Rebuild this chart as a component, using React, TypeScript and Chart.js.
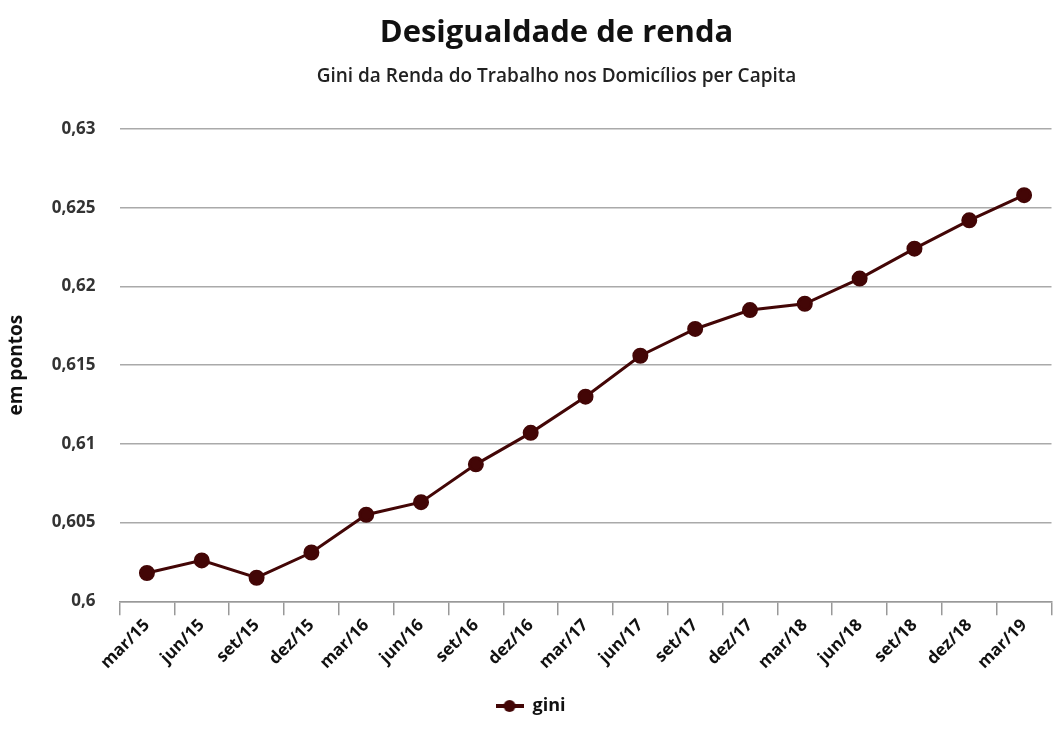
import React, { useEffect, useRef } from "react";
import { Chart, registerables } from "chart.js";

Chart.register(...registerables);

const chartTitle = "Desigualdade de renda";
const chartSubtitle = "Gini da Renda do Trabalho nos Domicílios per Capita";
const yAxisTitle = "em pontos";
const seriesName = "gini";

const categories = [
  "mar/15", "jun/15", "set/15", "dez/15",
  "mar/16", "jun/16", "set/16", "dez/16",
  "mar/17", "jun/17", "set/17", "dez/17",
  "mar/18", "jun/18", "set/18", "dez/18",
  "mar/19",
];

const gini = [
  0.6018, 0.6026, 0.6015, 0.6031,
  0.6055, 0.6063, 0.6087, 0.6107,
  0.613, 0.6156, 0.6173, 0.6185,
  0.6189, 0.6205, 0.6224, 0.6242,
  0.6258,
];

const yMin = 0.6;
const yMax = 0.63;
const yStep = 0.005;

const COLOR = "#430606";
const FONT = "'Open Sans', 'Noto Sans', sans-serif";

function legendIcon(): HTMLCanvasElement {
  const c = document.createElement("canvas");
  c.width = 28;
  c.height = 14;
  const ctx = c.getContext("2d")!;
  ctx.strokeStyle = COLOR;
  ctx.lineWidth = 4;
  ctx.beginPath();
  ctx.moveTo(0, 7);
  ctx.lineTo(28, 7);
  ctx.stroke();
  ctx.fillStyle = COLOR;
  ctx.beginPath();
  ctx.arc(14, 7, 6, 0, Math.PI * 2);
  ctx.fill();
  return c;
}

export default function App() {
  const ref = useRef<HTMLCanvasElement | null>(null);

  useEffect(() => {
    if (!ref.current) return;
    const icon = legendIcon();
    const chart = new Chart(ref.current, {
      type: "line",
      data: {
        labels: categories,
        datasets: [
          {
            label: seriesName,
            data: gini,
            borderColor: COLOR,
            backgroundColor: COLOR,
            borderWidth: 3,
            pointRadius: 6.5,
            pointHoverRadius: 6.5,
            pointBackgroundColor: COLOR,
            pointBorderColor: COLOR,
            tension: 0,
          },
        ],
      },
      options: {
        animation: false,
        responsive: true,
        maintainAspectRatio: false,
        layout: { padding: { left: 0, right: 0, bottom: 15, top: 129 } },
        plugins: {
          title: { display: false },
          legend: {
            position: "bottom",
            labels: {
              usePointStyle: true,
              pointStyleWidth: 28,
              padding: 24,
              color: "#111",
              font: { family: FONT, size: 18, weight: "bold" },
              generateLabels: (ch) =>
                ch.data.datasets.map((ds, i) => ({
                  text: ds.label as string,
                  pointStyle: icon,
                  fillStyle: COLOR,
                  strokeStyle: COLOR,
                  lineWidth: 0,
                  hidden: false,
                  datasetIndex: i,
                  fontColor: "#111",
                })),
            },
          },
          tooltip: { enabled: false },
        },
        scales: {
          x: {
            offset: true,
            grid: {
              offset: true,
              drawOnChartArea: false,
              drawTicks: true,
              tickLength: 14,
              color: "#999",
              lineWidth: 1.5,
            },
            border: { display: true, color: "#999", width: 1.5 },
            ticks: {
              color: "#111",
              font: { family: FONT, size: 17, weight: "bold" },
              minRotation: 45,
              maxRotation: 45,
              autoSkip: false,
              padding: 0,
            },
          },
          y: {
            min: yMin,
            max: yMax,
            grid: {
              drawTicks: false,
              color: "#aaa",
              lineWidth: 1.5,
            },
            border: { display: false },
            ticks: {
              stepSize: yStep,
              color: "#333",
              font: { family: FONT, size: 17, weight: "bold" },
              padding: 24,
              callback: (v) => Number(Number(v).toFixed(3)).toString().replace(".", ","),
            },
            title: {
              display: true,
              text: yAxisTitle,
              color: "#111",
              font: { family: FONT, size: 19, weight: "bold" },
              padding: { top: 5, bottom: 0 },
            },
          },
        },
      },
    });
    return () => chart.destroy();
  }, []);

  return (
    <div style={{ position: "fixed", left: 0, top: 0, width: 1053, height: 740, overflow: "hidden", background: "#fff" }}>
      <div style={{ position: "absolute", left: 0, top: 0, width: 1061, height: 740 }}>
        <canvas ref={ref} />
      </div>
      <div
        style={{
          position: "absolute",
          left: 60,
          top: 0,
          width: 993,
          textAlign: "center",
          fontFamily: FONT,
          color: "#111",
          pointerEvents: "none",
        }}
      >
        <div style={{ fontSize: 31, fontWeight: 700, lineHeight: "40px", marginTop: 10 }}>{chartTitle}</div>
        <div style={{ fontSize: 19, fontWeight: 600, lineHeight: "24px", marginTop: 13, color: "#222" }}>
          {chartSubtitle}
        </div>
      </div>
    </div>
  );
}
